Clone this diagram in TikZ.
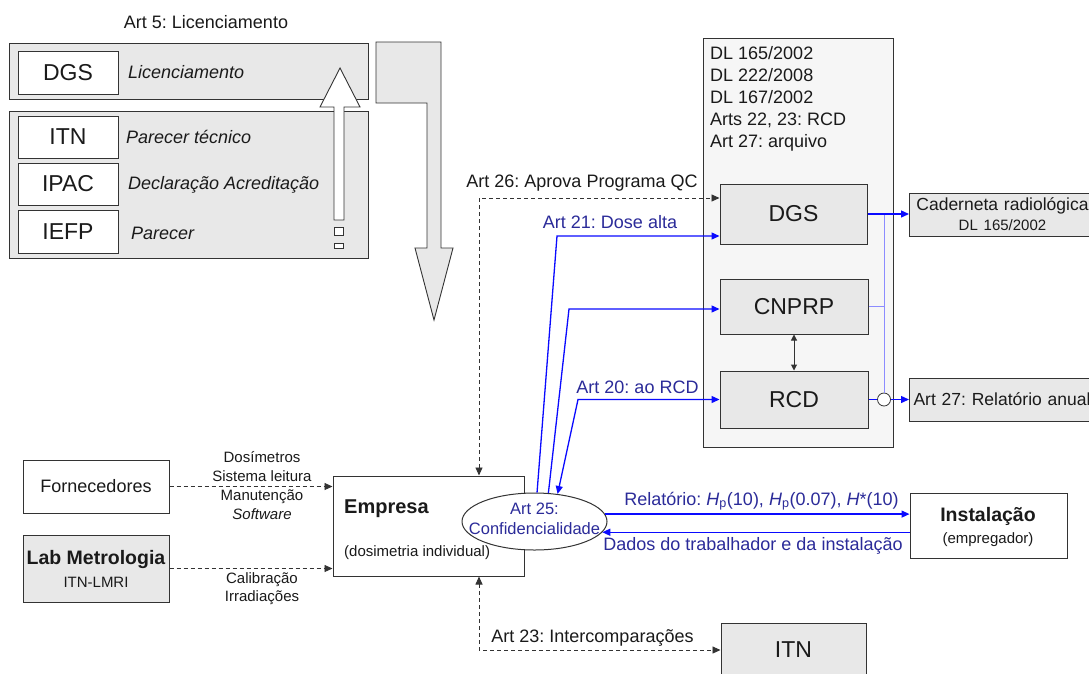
\documentclass[tikz,border=0pt]{standalone}
\usepackage{fontspec}
\setmainfont{Liberation Sans}
\usetikzlibrary{arrows.meta,shapes.geometric}
\frenchspacing
\definecolor{edgecol}{HTML}{333333}
\definecolor{boxgray}{HTML}{E8E8E8}
\definecolor{panelgray}{HTML}{F6F6F6}
\definecolor{linkblue}{HTML}{0A0AFF}
\definecolor{paleblue}{HTML}{8C8CFF}
\definecolor{navycol}{HTML}{2B2B99}
\definecolor{textcol}{HTML}{1A1A1A}
\newcommand{\setfs}[1]{\fontsize{#1}{#1}\selectfont}
\tikzset{
  box/.style={draw=edgecol, line width=1pt, inner sep=0pt, font=\setfs{23}, text=textcol},
  graybox/.style={box, fill=boxgray},
  whitebox/.style={box, fill=white},
  lbl/.style={font=\setfs{18}, text=textcol, inner sep=0pt},
  small/.style={font=\setfs{15}, text=textcol, inner sep=0pt},
  bluelbl/.style={font=\setfs{18}, text=navycol, inner sep=0pt},
  tip/.style={-{Triangle[length=8pt,width=7pt]}},
  bitip/.style={{Triangle[length=8pt,width=7pt]}-{Triangle[length=8pt,width=7pt]}},
  dashln/.style={draw=edgecol, line width=0.9pt, dash pattern=on 4pt off 3pt},
  blueln/.style={draw=linkblue, line width=1.3pt},
}

\begin{document}
\begin{tikzpicture}[x=1pt, y=-1pt]
    \useasboundingbox (0,0) rectangle (1089,673);
    \fill[white] (0,0) rectangle (1089,673);
    \clip (0,0) rectangle (1089,673);
    % Art 5 panels
    \node[lbl] (art5) at (206,22) {Art 5: Licenciamento};
    \node[graybox, minimum width=359pt, minimum height=56pt] (licpanel) at (188.5,71) {};
    \node[graybox, minimum width=359pt, minimum height=147pt] (parpanel) at (188.5,184.5) {};
    \node[whitebox, minimum width=100pt, minimum height=43pt] (dgsL) at (68,72.5) {DGS};
    \node[whitebox, minimum width=100pt, minimum height=42pt] (itnL) at (68,137) {ITN};
    \node[whitebox, minimum width=100pt, minimum height=42pt] (ipacL) at (68,184) {IPAC};
    \node[whitebox, minimum width=100pt, minimum height=43pt] (iefpL) at (68,231.5) {IEFP};
    \node[lbl, anchor=west, font=\setfs{18}\itshape] (licL) at (128,72) {Licenciamento};
    \node[lbl, anchor=west, font=\setfs{18}\itshape] (itnT) at (126,137) {Parecer técnico};
    \node[lbl, anchor=west, font=\setfs{18}\itshape] (ipacT) at (128,185) {Declaração Acreditação};
    \node[lbl, anchor=west, font=\setfs{18}\itshape] (iefpT) at (131,233) {Parecer};
    % white arrow up
    \draw[edgecol, fill=white, line width=0.9pt] (334,220) -- (334,107) -- (320,107) -- (340,68)
      -- (360,107) -- (344,107) -- (344,220) -- cycle;
    \draw[edgecol, fill=white, line width=0.8pt] (334,227) rectangle (343,235);
    \draw[edgecol, fill=white, line width=0.8pt] (334,243) rectangle (343,248);
    % gray arrow down
    \draw[edgecol, fill=boxgray, line width=0.9pt] (376,42) -- (441,42) -- (441,248) -- (453,248)
      -- (434,320) -- (415,248) -- (427,248) -- (427,103) -- (376,103) -- cycle;
    % DL panel
    \node[box, fill=panelgray, minimum width=190pt, minimum height=409pt] (dlpanel) at (798,242.5) {};
    \node[lbl, anchor=north west, align=left, font=\fontsize{18}{22}\selectfont] (dltext) at (710,46.5)
      {DL 165/2002\\DL 222/2008\\DL 167/2002\\Arts 22, 23: RCD\\Art 27: arquivo};
    \node[graybox, minimum width=147pt, minimum height=60pt] (dgsR) at (793.5,214) {DGS};
    \node[graybox, minimum width=148pt, minimum height=55pt] (cnprp) at (794,306.5) {CNPRP};
    \node[graybox, minimum width=148pt, minimum height=57pt] (rcd) at (794,399.5) {RCD};
    \draw[edgecol, line width=1pt, {Triangle[length=6pt,width=6pt]}-{Triangle[length=6pt,width=6pt]}]
      (cnprp.south) -- (rcd.north);
    % outputs on the right
    \node[graybox, anchor=west, minimum height=43pt, text width=178pt, inner xsep=4pt, align=center,
      font=\fontsize{17.5}{20}\selectfont] (cader) at (909,214.5) {Caderneta radiológica\\{\setfs{15}DL 165/2002}};
    \node[graybox, anchor=west, minimum height=43pt, text width=190pt, inner xsep=4pt, align=left,
      font=\setfs{17.5}] (art27) at (909,399.5) {Art 27: Relatório anual};
    \node[circle, draw=edgecol, fill=white, line width=0.8pt, minimum size=13pt, inner sep=0pt] (knot) at (884,399.5) {};
    \coordinate (vj) at (884,214);
    \draw[paleblue, line width=1pt] (vj) -- (knot.north);
    \draw[paleblue, line width=1pt] (cnprp.east) -- (cnprp.east -| vj);
    \draw[blueln, tip] (dgsR.east) -- (dgsR.east -| cader.west);
    \draw[blueln] (rcd.east) -- (knot.west);
    \draw[blueln, tip] (knot.east) -- (knot.east -| art27.west);
    % Empresa
    \node[whitebox, minimum width=191pt, minimum height=100pt] (empresa) at (428.5,526) {};
    \node[lbl, anchor=west, font=\setfs{20}\bfseries] (emptxt) at (344,509) {Empresa};
    \node[ellipse, draw=edgecol, fill=white, line width=1pt, minimum width=145pt, minimum height=57pt,
      inner sep=0pt] (conf) at (534.5,521.5) {};
    \node[align=center, inner sep=0pt, font=\fontsize{16.5}{20}\selectfont, text=navycol] (conftxt)
      at (534.5,519) {Art 25:\\Confidencialidade};
    \node[small, anchor=west] (dosind) at (344,553) {(dosimetria individual)};
    % suppliers
    \node[whitebox, minimum width=146pt, minimum height=53pt, font=\setfs{18}] (fornec) at (96,486.5) {Fornecedores};
    \node[graybox, minimum width=146pt, minimum height=67pt] (labmet) at (96,568.5) {};
    \node[lbl, font=\setfs{19.5}\bfseries] (labtxt) at (96,559) {Lab Metrologia};
    \node[small] (lmri) at (96,582) {ITN-LMRI};
    \draw[dashln, tip] (fornec.east) -- (fornec.east -| empresa.west);
    \draw[dashln, tip] (labmet.east) -- (labmet.east -| empresa.west);
    \node[small, align=center, font=\fontsize{15}{19}\selectfont] (supplies) at (262,486)
      {Dosímetros\\Sistema leitura\\Manutenção\\\textit{Software}};
    \node[small, align=center, font=\fontsize{15}{18}\selectfont, anchor=north] (calib) at (262,572)
      {Calibração\\Irradiações};
    % Instalacao and ITN
    \node[whitebox, minimum width=157pt, minimum height=65pt] (instal) at (988.5,525.5) {};
    \node[lbl, font=\setfs{19.5}\bfseries] (insttxt) at (988,516) {Instalação};
    \node[small] (emprg) at (988,540) {(empregador)};
    \node[graybox, minimum width=145pt, minimum height=54pt] (itnB) at (793.5,650) {ITN};
    % dashed links
    \coordinate (a26) at (479,198);
    \draw[dashln, bitip] (empresa.north -| a26) -- (a26) -- (a26 -| dgsR.west);
    \node[lbl] (l26) at (582,183) {Art 26: Aprova Programa QC};
    \coordinate (a23) at (479,650);
    \draw[dashln, bitip] (empresa.south -| a23) -- (a23) -- (a23 -| itnB.west);
    \node[lbl] (l23) at (592.5,638) {Art 23: Intercomparações};
    % blue links
    \coordinate (a21) at (557,236);
    \draw[blueln, tip] (conf.85) -- (a21) -- (a21 -| dgsR.west);
    \node[bluelbl] (l21) at (610,222) {Art 21: Dose alta};
    \coordinate (acn) at (569,309);
    \draw[blueln, tip] (conf.64) -- (acn) -- (acn -| cnprp.west);
    \coordinate (a20) at (578,399.5);
    \draw[blueln, bitip] (conf.50) -- (a20) -- (a20 -| rcd.west);
    \node[bluelbl] (l20) at (637.5,387) {Art 20: ao RCD};
    \draw[blueln, tip] (conf.6) -- (conf.6 -| instal.west);
    \node[bluelbl] (lrel) at (761.5,501)
      {Relatório: \textit{H}\textsubscript{p}(10), \textit{H}\textsubscript{p}(0.07), \textit{H}*(10)};
    \draw[blueln, tip] (instal.west |- conf.-9) -- (conf.-9);
    \node[bluelbl] (ldados) at (753,546) {Dados do trabalhador e da instalação};
\end{tikzpicture}
\end{document}
